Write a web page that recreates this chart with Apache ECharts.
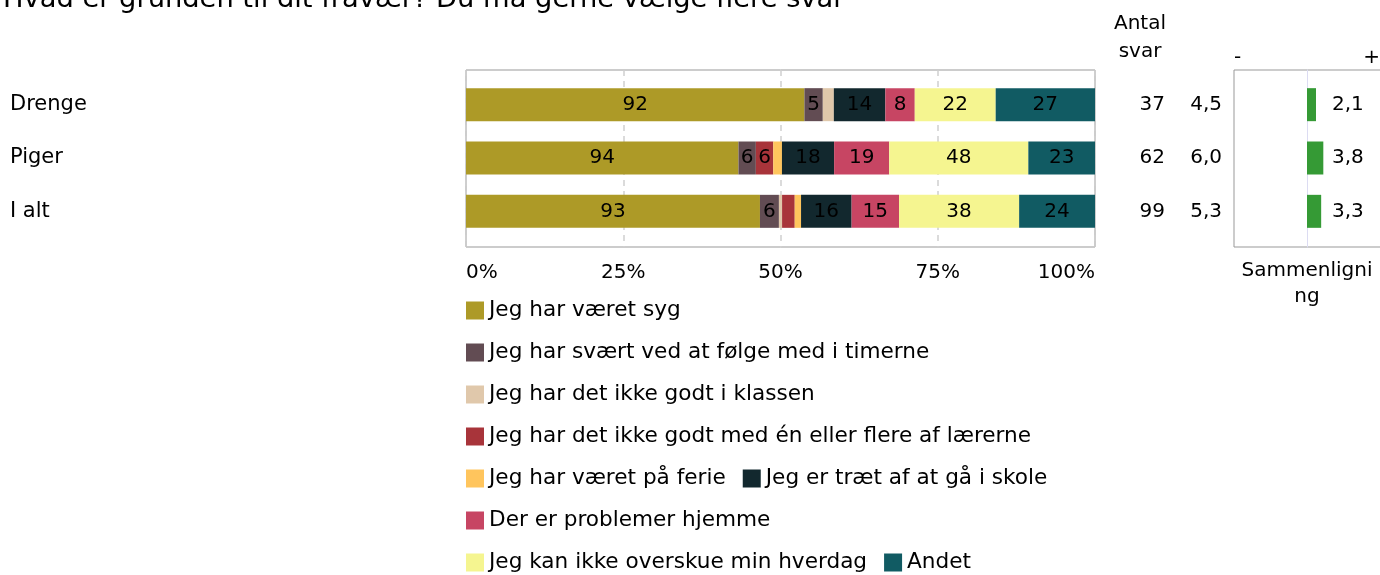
<!DOCTYPE html>
<html>
<head>
<meta charset="utf-8">
<script src="https://cdn.jsdelivr.net/npm/echarts@6/dist/echarts.min.js"></script>
<style>
html,body{margin:0;padding:0;background:#fff;overflow:hidden;}
#chart{width:1400px;height:575px;}
</style>
</head>
<body>
<div id="chart"></div>
<script>
// ---- data ----
const titleText = 'Hvad er grunden til dit fravær? Du må gerne vælge flere svar';
const categories = ['Drenge', 'Piger', 'I alt'];
const seriesNames = [
  'Jeg har været syg',
  'Jeg har svært ved at følge med i timerne',
  'Jeg har det ikke godt i klassen',
  'Jeg har det ikke godt med én eller flere af lærerne',
  'Jeg har været på ferie',
  'Jeg er træt af at gå i skole',
  'Der er problemer hjemme',
  'Jeg kan ikke overskue min hverdag',
  'Andet'
];
const syg      = [92, 94, 93];
const svaert   = [5, 6, 6];
const klassen  = [3, 0, 1];
const laererne = [0, 6, 4];
const ferie    = [0, 3, 2];
const traet    = [14, 18, 16];
const hjemme   = [8, 19, 15];
const hverdag  = [22, 48, 38];
const andet    = [27, 23, 24];
const antalSvar = [37, 62, 99];
const gennemsnit = [4.5, 6.0, 5.3];
const sammenligning = [2.1, 3.8, 3.3];
const xTicks = [0, 25, 50, 75, 100];
const colors = ['#AD9A27', '#624C53', '#E0C8AB', '#A8343A', '#FFC55D', '#12282E', '#C74563', '#F5F590', '#115B63'];
const greenColor = '#359A35';

// ---- build ----
const allSeries = [syg, svaert, klassen, laererne, ferie, traet, hjemme, hverdag, andet];
const totals = categories.map((c, i) => allSeries.reduce((s, arr) => s + arr[i], 0));
const fmtNum = v => v.toFixed(1).replace('.', ',');
const FONT = 'DejaVu Sans';
const CMP_MIN = -17, CMP_MAX = 17;
const cmpScale = 146 / (CMP_MAX - CMP_MIN);

const barSeries = allSeries.map((arr, k) => ({
  name: seriesNames[k],
  type: 'bar',
  stack: 'total',
  xAxisIndex: 1,
  yAxisIndex: 1,
  barWidth: 33,
  itemStyle: { color: colors[k] },
  label: {
    show: true,
    position: 'inside',
    color: '#000',
    fontSize: 20,
    fontFamily: FONT,
    formatter: p => (arr[p.dataIndex] >= 5 ? String(arr[p.dataIndex]) : '')
  },
  emphasis: { disabled: true },
  data: arr.map((v, i) => v / totals[i] * 100)
}));

const chart = echarts.init(document.getElementById('chart'), null, { renderer: 'canvas' });
chart.setOption({
  animation: false,
  textStyle: { fontFamily: FONT, color: '#000' },
  title: [
    { text: titleText, left: 3, top: -14, padding: 0,
      textStyle: { fontSize: 27.3, fontWeight: 'normal', color: '#000', fontFamily: FONT } },
    { text: 'Antal\nsvar', left: 1140, top: 10, padding: 0, textAlign: 'center',
      textStyle: { fontSize: 20, fontWeight: 'normal', color: '#000', lineHeight: 28, fontFamily: FONT } },
    { text: 'Sammenligni\nng', left: 1307, top: 258, padding: 0, textAlign: 'center',
      textStyle: { fontSize: 20, fontWeight: 'normal', color: '#000', lineHeight: 26, fontFamily: FONT } }
  ],
  legend: {
    data: seriesNames,
    left: 466, top: 298, width: 620,
    orient: 'horizontal',
    itemGap: 17, itemWidth: 18, itemHeight: 18,
    icon: 'rect',
    padding: 0,
    textStyle: { fontSize: 21.6, lineHeight: 25, color: '#000', fontFamily: FONT },
    selectedMode: false
  },
  grid: [
    { left: 466, top: 70, width: 629, height: 177, show: true, borderColor: '#999', borderWidth: 1, backgroundColor: 'transparent' },
    { left: 466, top: 78, width: 629, height: 160 },
    { left: 1234, top: 70, width: 156, height: 177, show: true, borderColor: '#999', borderWidth: 1, backgroundColor: 'transparent' },
    { left: 1234, top: 78, width: 146, height: 160 }
  ],
  xAxis: [
    { gridIndex: 0, type: 'value', min: xTicks[0], max: xTicks[xTicks.length - 1], interval: 25,
      axisLine: { show: false }, axisTick: { show: false },
      splitLine: { show: true, lineStyle: { color: '#cfcfcf', type: [6, 5], width: 1.5 } },
      axisLabel: { formatter: '{value}%', fontSize: 20, color: '#000', margin: 16,
        alignMinLabel: 'left', alignMaxLabel: 'right', fontFamily: FONT } },
    { gridIndex: 1, type: 'value', min: 0, max: 100, show: false },
    { gridIndex: 2, type: 'value', min: CMP_MIN, max: CMP_MIN + 156 / cmpScale, show: false },
    { gridIndex: 3, type: 'value', min: CMP_MIN, max: CMP_MAX, interval: CMP_MAX, position: 'top',
      axisLine: { show: false }, axisTick: { show: false }, splitLine: { show: false },
      axisLabel: { fontSize: 20, color: '#000', margin: 10, alignMinLabel: 'left', alignMaxLabel: 'right',
        formatter: v => (v < 0 ? '-' : v > 0 ? '+' : ''), fontFamily: FONT } }
  ],
  yAxis: [
    { gridIndex: 0, type: 'value', min: 0, max: 1, show: false },
    { gridIndex: 1, type: 'category', data: categories, inverse: true,
      axisLine: { show: false }, axisTick: { show: false },
      axisLabel: { align: 'left', margin: 456, fontSize: 21, color: '#000', fontFamily: FONT } },
    { gridIndex: 1, type: 'category', data: categories, inverse: true, position: 'right', offset: 70,
      axisLine: { show: false }, axisTick: { show: false },
      axisLabel: { align: 'right', margin: 0, fontSize: 20, color: '#000', fontFamily: FONT,
        formatter: (v, i) => String(antalSvar[i]) } },
    { gridIndex: 1, type: 'category', data: categories, inverse: true, position: 'right', offset: 127,
      axisLine: { show: false }, axisTick: { show: false },
      axisLabel: { align: 'right', margin: 0, fontSize: 20, color: '#000', fontFamily: FONT,
        formatter: (v, i) => fmtNum(gennemsnit[i]) } },
    { gridIndex: 2, type: 'value', min: 0, max: 1,
      axisLine: { show: true, onZero: true, lineStyle: { color: '#dcdcf2', width: 1 } },
      axisTick: { show: false }, axisLabel: { show: false }, splitLine: { show: false } },
    { gridIndex: 3, type: 'category', data: categories, inverse: true, show: false }
  ],
  series: barSeries.concat([{
    name: 'Sammenligning',
    type: 'bar',
    xAxisIndex: 3,
    yAxisIndex: 5,
    barWidth: 33,
    itemStyle: { color: greenColor },
    label: { show: true, position: 'insideLeft', distance: 25, color: '#000', fontSize: 20, fontFamily: FONT,
      formatter: p => fmtNum(p.value) },
    emphasis: { disabled: true },
    data: sammenligning
  }])
});
</script>
</body>
</html>
